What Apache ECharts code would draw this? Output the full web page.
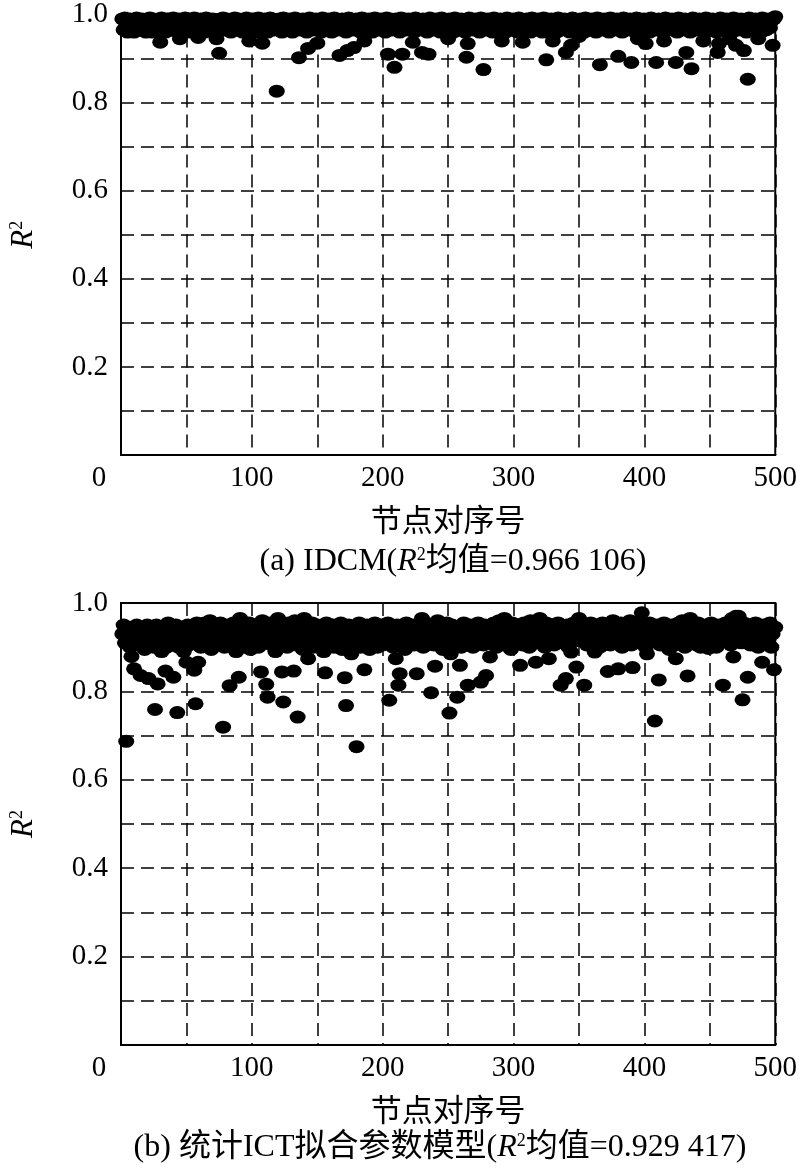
<!DOCTYPE html>
<html><head><meta charset="utf-8">
<script src="https://cdn.jsdelivr.net/npm/echarts/dist/echarts.min.js"></script>
<style>html,body{margin:0;padding:0;background:#fff}#c{width:800px;height:1175px}</style>
</head><body><div id="c"></div>
<script>
// tick labels
const xTicks = [0, 100, 200, 300, 400, 500];
const yTicks = [0.2, 0.4, 0.6, 0.8, 1.0];
const xName = '节点对序号';
const captionA = '(a) IDCM({i|R}{s|2}均值=0.966 106)';
const captionB = '(b) 统计ICT拟合参数模型({i|R}{s|2}均值=0.929 417)';

// R² of node pairs 1..500, (a) IDCM
const r2IDCM = [
0.99,0.965,0.992,0.975,0.96,0.985,0.99,0.97,0.98,0.96,0.99,0.992,0.97,0.985,0.965,0.99,0.975,0.98,0.96,0.99,
0.97,0.992,0.985,0.96,0.99,0.975,0.98,0.965,0.99,0.937,0.992,0.97,0.985,0.96,0.99,0.975,0.99,0.965,0.98,0.992,
0.97,0.985,0.96,0.99,0.945,0.975,0.99,0.965,0.992,0.98,0.97,0.99,0.96,0.985,0.975,0.992,0.965,0.99,0.948,0.98,
0.99,0.97,0.985,0.96,0.992,0.975,0.99,0.965,0.98,0.99,0.97,0.96,0.945,0.985,0.912,0.99,0.975,0.992,0.965,0.98,
0.99,0.97,0.985,0.96,0.99,0.975,0.992,0.965,0.98,0.99,0.97,0.985,0.96,0.99,0.975,0.992,0.965,0.94,0.98,0.99,
0.97,0.99,0.985,0.96,0.992,0.975,0.99,0.935,0.98,0.99,0.97,0.96,0.985,0.992,0.975,0.99,0.965,0.98,0.826,0.97,
0.99,0.985,0.96,0.992,0.975,0.99,0.965,0.98,0.99,0.97,0.96,0.985,0.992,0.975,0.99,0.902,0.965,0.98,0.99,0.97,
0.985,0.96,0.923,0.992,0.975,0.99,0.965,0.98,0.99,0.935,0.97,0.985,0.96,0.992,0.975,0.99,0.965,0.98,0.99,0.97,
0.96,0.985,0.992,0.975,0.99,0.965,0.907,0.98,0.99,0.97,0.985,0.96,0.918,0.992,0.975,0.99,0.965,0.925,0.98,0.99,
0.97,0.985,0.96,0.992,0.975,0.94,0.99,0.965,0.98,0.99,0.97,0.96,0.985,0.992,0.975,0.99,0.965,0.98,0.99,0.97,
0.985,0.96,0.992,0.91,0.975,0.99,0.965,0.98,0.88,0.99,0.97,0.985,0.96,0.992,0.91,0.975,0.99,0.965,0.98,0.99,
0.97,0.985,0.937,0.96,0.992,0.975,0.99,0.965,0.98,0.914,0.99,0.97,0.985,0.96,0.91,0.992,0.975,0.99,0.965,0.98,
0.99,0.97,0.985,0.96,0.992,0.975,0.99,0.965,0.98,0.945,0.99,0.97,0.985,0.96,0.992,0.975,0.99,0.965,0.98,0.99,
0.97,0.985,0.96,0.903,0.934,0.992,0.975,0.99,0.965,0.98,0.99,0.97,0.985,0.96,0.992,0.975,0.875,0.99,0.965,0.98,
0.99,0.97,0.985,0.96,0.992,0.975,0.99,0.965,0.98,0.99,0.94,0.97,0.985,0.96,0.992,0.975,0.99,0.965,0.98,0.99,
0.97,0.985,0.96,0.992,0.975,0.99,0.937,0.965,0.98,0.99,0.97,0.985,0.96,0.992,0.975,0.99,0.965,0.98,0.99,0.97,
0.985,0.96,0.992,0.975,0.897,0.99,0.965,0.98,0.99,0.94,0.97,0.985,0.96,0.992,0.975,0.99,0.965,0.98,0.99,0.914,
0.97,0.985,0.96,0.93,0.992,0.975,0.99,0.965,0.98,0.95,0.99,0.97,0.985,0.96,0.992,0.975,0.99,0.965,0.98,0.99,
0.97,0.985,0.96,0.992,0.975,0.886,0.99,0.965,0.98,0.99,0.97,0.985,0.96,0.992,0.975,0.99,0.965,0.98,0.99,0.905,
0.97,0.985,0.96,0.992,0.975,0.99,0.965,0.98,0.99,0.891,0.97,0.985,0.96,0.992,0.945,0.975,0.99,0.965,0.98,0.99,
0.934,0.97,0.985,0.96,0.992,0.975,0.99,0.965,0.891,0.98,0.99,0.97,0.985,0.96,0.94,0.992,0.975,0.99,0.965,0.98,
0.99,0.97,0.985,0.891,0.96,0.992,0.975,0.99,0.965,0.98,0.99,0.914,0.97,0.985,0.96,0.877,0.992,0.975,0.99,0.965,
0.98,0.99,0.97,0.985,0.94,0.96,0.992,0.975,0.99,0.965,0.98,0.99,0.97,0.985,0.96,0.914,0.934,0.992,0.975,0.99,
0.965,0.98,0.99,0.97,0.945,0.985,0.96,0.992,0.975,0.93,0.99,0.965,0.98,0.99,0.97,0.918,0.985,0.96,0.853,0.992,
0.975,0.99,0.965,0.98,0.99,0.97,0.945,0.985,0.96,0.992,0.975,0.99,0.965,0.98,0.99,0.97,0.985,0.93,0.99,0.995
];

// R² of node pairs 1..500, (b) statistical ICT fitted-parameter model
const r2ICT = [
0.93,0.95,0.91,0.687,0.945,0.92,0.9,0.879,0.94,0.851,0.925,0.95,0.905,0.935,0.836,0.92,0.945,0.895,0.93,0.95,
0.829,0.91,0.94,0.925,0.9,0.759,0.95,0.817,0.915,0.935,0.89,0.945,0.92,0.846,0.9,0.955,0.93,0.91,0.94,0.832,
0.92,0.95,0.752,0.9,0.935,0.915,0.945,0.89,0.925,0.866,0.95,0.905,0.93,0.94,0.91,0.848,0.772,0.955,0.866,0.92,
0.9,0.945,0.93,0.955,0.91,0.94,0.92,0.96,0.895,0.935,0.95,0.905,0.925,0.945,0.915,0.955,0.93,0.719,0.9,0.94,
0.92,0.95,0.813,0.935,0.905,0.955,0.925,0.89,0.945,0.832,0.965,0.91,0.93,0.95,0.9,0.94,0.92,0.955,0.895,0.935,
0.945,0.91,0.925,0.95,0.9,0.935,0.844,0.96,0.915,0.94,0.816,0.787,0.93,0.955,0.905,0.92,0.945,0.89,0.935,0.965,
0.91,0.95,0.844,0.776,0.925,0.94,0.9,0.955,0.93,0.915,0.945,0.846,0.96,0.905,0.742,0.935,0.92,0.95,0.895,0.965,
0.93,0.91,0.874,0.945,0.92,0.955,0.9,0.94,0.925,0.95,0.905,0.935,0.915,0.945,0.89,0.842,0.955,0.93,0.91,0.94,
0.92,0.95,0.9,0.935,0.945,0.91,0.925,0.955,0.895,0.94,0.831,0.768,0.93,0.95,0.905,0.885,0.92,0.945,0.91,0.675,
0.935,0.955,0.9,0.925,0.94,0.849,0.915,0.95,0.93,0.895,0.945,0.91,0.92,0.955,0.935,0.9,0.94,0.925,0.95,0.905,
0.93,0.945,0.915,0.955,0.78,0.92,0.94,0.9,0.935,0.874,0.95,0.814,0.84,0.91,0.925,0.945,0.895,0.955,0.93,0.915,
0.94,0.92,0.95,0.905,0.935,0.84,0.945,0.91,0.925,0.965,0.9,0.93,0.955,0.915,0.94,0.92,0.797,0.95,0.905,0.857,
0.935,0.96,0.91,0.925,0.945,0.895,0.94,0.92,0.955,0.93,0.751,0.885,0.95,0.905,0.935,0.915,0.787,0.945,0.859,0.9,
0.93,0.955,0.92,0.94,0.814,0.91,0.95,0.925,0.9,0.935,0.945,0.915,0.955,0.93,0.821,0.94,0.905,0.95,0.836,0.92,
0.935,0.878,0.945,0.91,0.955,0.925,0.9,0.94,0.96,0.93,0.915,0.95,0.965,0.905,0.935,0.92,0.945,0.895,0.955,0.93,
0.91,0.94,0.925,0.95,0.859,0.935,0.905,0.955,0.92,0.945,0.93,0.9,0.96,0.915,0.94,0.925,0.866,0.95,0.91,0.965,
0.935,0.92,0.945,0.9,0.955,0.93,0.874,0.915,0.94,0.95,0.905,0.925,0.935,0.955,0.91,0.814,0.945,0.92,0.93,0.829,
0.95,0.9,0.94,0.889,0.925,0.955,0.935,0.855,0.915,0.965,0.945,0.92,0.93,0.814,0.95,0.905,0.94,0.925,0.955,0.91,
0.935,0.889,0.945,0.92,0.95,0.9,0.93,0.955,0.915,0.94,0.925,0.845,0.95,0.905,0.935,0.96,0.92,0.945,0.91,0.851,
0.93,0.955,0.9,0.94,0.925,0.95,0.915,0.935,0.96,0.905,0.854,0.945,0.92,0.93,0.955,0.91,0.94,0.978,0.925,0.95,
0.9,0.885,0.935,0.955,0.915,0.945,0.92,0.733,0.93,0.95,0.826,0.905,0.94,0.925,0.955,0.91,0.935,0.945,0.895,0.92,
0.95,0.93,0.905,0.874,0.94,0.955,0.915,0.925,0.96,0.935,0.9,0.945,0.835,0.92,0.965,0.91,0.95,0.93,0.94,0.905,
0.955,0.925,0.9,0.945,0.915,0.935,0.95,0.92,0.897,0.94,0.955,0.91,0.93,0.945,0.9,0.925,0.95,0.935,0.915,0.814,
0.94,0.955,0.92,0.93,0.95,0.905,0.965,0.878,0.945,0.97,0.925,0.97,0.935,0.91,0.781,0.955,0.94,0.92,0.832,0.95,
0.905,0.935,0.945,0.915,0.955,0.93,0.9,0.94,0.925,0.866,0.95,0.91,0.935,0.945,0.92,0.955,0.9,0.93,0.849,0.945
];

const SERIF = "'Liberation Serif','Times New Roman','Noto Sans CJK SC',serif";
const CJK = "'Noto Sans CJK SC','Liberation Serif',sans-serif";
const dash = {color: '#000', type: [13, 7], width: 1.5};

function makeX(gi) {
  return {
    gridIndex: gi, type: 'value', min: 0, max: 500, interval: 50,
    axisLine: {show: false}, axisTick: {show: false},
    splitLine: {show: true, lineStyle: dash},
    axisLabel: {
      margin: 9, fontSize: 29, fontFamily: SERIF, color: '#000',
      formatter: v => xTicks.includes(v) ? (v === 0 ? '{z|0}' : String(v)) : '',
      rich: {z: {padding: [0, 44, 0, 0], fontSize: 29, fontFamily: SERIF, color: '#000'}}
    },
    name: xName, nameLocation: 'middle', nameGap: 49,
    nameTextStyle: {fontSize: 31, fontFamily: CJK, color: '#000'}
  };
}
function makeY(gi) {
  return {
    gridIndex: gi, type: 'value', min: 0, max: 1, interval: 0.1,
    axisLine: {show: false}, axisTick: {show: false},
    splitLine: {show: true, lineStyle: dash},
    axisLabel: {
      margin: 13, fontSize: 29, fontFamily: SERIF, color: '#000',
      formatter: v => { const k = Math.round(v * 10); return yTicks.some(t => Math.round(t * 10) === k) ? (k / 10).toFixed(1) : ''; }
    },
    name: '{i|R}{s|2}', nameLocation: 'middle', nameGap: 82, nameRotate: 90,
    nameTextStyle: {
      color: '#000',
      rich: {
        i: {fontSize: 31, fontStyle: 'italic', fontFamily: SERIF, color: '#000'},
        s: {fontSize: 18, fontFamily: SERIF, color: '#000', verticalAlign: 'top'}
      }
    }
  };
}
function makeSeries(gi, arr) {
  return {
    type: 'scatter', xAxisIndex: gi, yAxisIndex: gi,
    data: arr.map((v, i) => [i + 1, v]),
    symbol: 'circle', symbolSize: [16, 13], clip: false, silent: true,
    itemStyle: {color: '#000', opacity: 1}, z: 5
  };
}
function caption(text, x, y) {
  return {
    type: 'text', x: x, y: y, z: 10,
    style: {
      text: text, align: 'center', verticalAlign: 'middle',
      fontSize: 32, fontFamily: SERIF, fill: '#000',
      rich: {
        i: {fontSize: 32, fontStyle: 'italic', fontFamily: SERIF, fill: '#000'},
        s: {fontSize: 18, fontFamily: SERIF, fill: '#000', verticalAlign: 'top'}
      }
    }
  };
}

const chart = echarts.init(document.getElementById('c'), null, {renderer: 'canvas'});
chart.setOption({
  animation: false,
  backgroundColor: '#fff',
  grid: [
    {left: 120, top: 14, width: 656, height: 441, show: true, borderColor: '#000', borderWidth: 2, backgroundColor: 'transparent'},
    {left: 120, top: 603, width: 656, height: 442, show: true, borderColor: '#000', borderWidth: 2, backgroundColor: 'transparent'}
  ],
  xAxis: [makeX(0), makeX(1)],
  yAxis: [makeY(0), makeY(1)],
  series: [makeSeries(0, r2IDCM), makeSeries(1, r2ICT)],
  graphic: [caption(captionA, 453, 562), caption(captionB, 440, 1148)]
});
</script>
</body></html>
